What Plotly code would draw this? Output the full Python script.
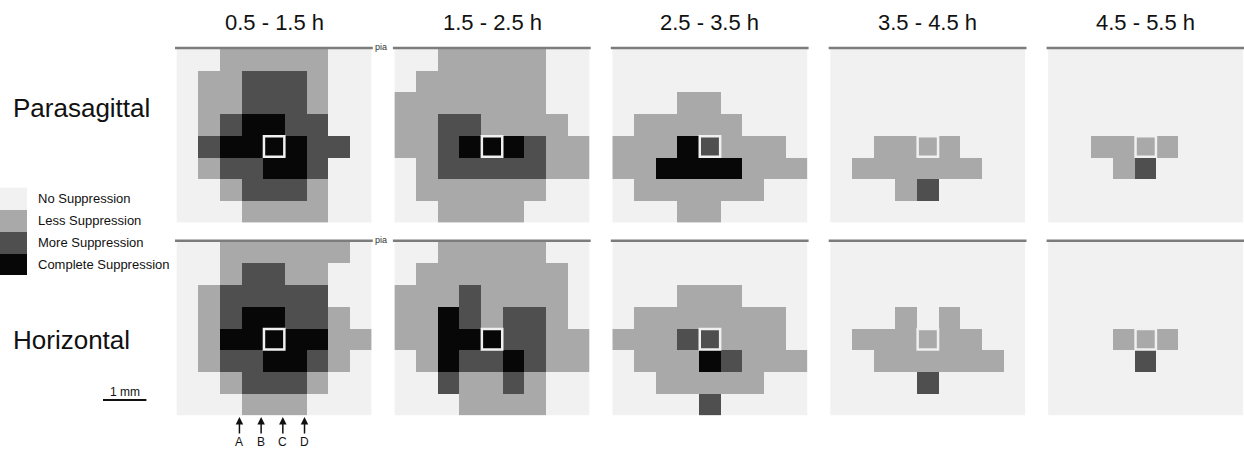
import plotly.graph_objects as go

# ---------------- data ----------------
time_labels = ["0.5 - 1.5 h", "1.5 - 2.5 h", "2.5 - 3.5 h", "3.5 - 4.5 h", "4.5 - 5.5 h"]
row_labels = ["Parasagittal", "Horizontal"]
level_names = ["No Suppression", "Less Suppression", "More Suppression", "Complete Suppression"]
level_values = [0, 1, 2, 3]
level_colors = ["#f1f1f1", "#a9a9a9", "#4f4f4f", "#070707"]
electrode_labels = ["A", "B", "C", "D"]
electrode_x = [2.4, 3.4, 4.4, 5.4]
center_cell = (4, 4)  # (col, row) of stimulation site

para_05_15 = [
    [0, 0, 1, 1, 1, 1, 1, 0, 0],
    [0, 1, 1, 2, 2, 2, 1, 0, 0],
    [0, 1, 1, 2, 2, 2, 1, 0, 0],
    [0, 1, 2, 3, 3, 2, 2, 0, 0],
    [0, 2, 3, 3, 3, 3, 2, 2, 0],
    [0, 1, 2, 2, 3, 3, 2, 0, 0],
    [0, 0, 1, 2, 2, 2, 1, 0, 0],
    [0, 0, 0, 1, 1, 1, 1, 0, 0],
]
para_15_25 = [
    [0, 0, 1, 1, 1, 1, 1, 0, 0],
    [0, 1, 1, 1, 1, 1, 1, 0, 0],
    [1, 1, 1, 1, 1, 1, 1, 0, 0],
    [1, 1, 2, 2, 1, 1, 1, 1, 0],
    [1, 1, 2, 3, 3, 3, 2, 1, 1],
    [0, 1, 2, 2, 2, 2, 2, 1, 1],
    [0, 1, 1, 1, 1, 1, 1, 0, 0],
    [0, 0, 1, 1, 1, 1, 0, 0, 0],
]
para_25_35 = [
    [0, 0, 0, 0, 0, 0, 0, 0, 0],
    [0, 0, 0, 0, 0, 0, 0, 0, 0],
    [0, 0, 0, 1, 1, 0, 0, 0, 0],
    [0, 1, 1, 1, 1, 1, 0, 0, 0],
    [1, 1, 1, 3, 2, 1, 1, 1, 0],
    [1, 1, 3, 3, 3, 3, 1, 1, 1],
    [0, 1, 1, 1, 1, 1, 1, 0, 0],
    [0, 0, 0, 1, 1, 0, 0, 0, 0],
]
para_35_45 = [
    [0, 0, 0, 0, 0, 0, 0, 0, 0],
    [0, 0, 0, 0, 0, 0, 0, 0, 0],
    [0, 0, 0, 0, 0, 0, 0, 0, 0],
    [0, 0, 0, 0, 0, 0, 0, 0, 0],
    [0, 0, 1, 1, 1, 1, 0, 0, 0],
    [0, 1, 1, 1, 1, 1, 1, 0, 0],
    [0, 0, 0, 1, 2, 0, 0, 0, 0],
    [0, 0, 0, 0, 0, 0, 0, 0, 0],
]
para_45_55 = [
    [0, 0, 0, 0, 0, 0, 0, 0, 0],
    [0, 0, 0, 0, 0, 0, 0, 0, 0],
    [0, 0, 0, 0, 0, 0, 0, 0, 0],
    [0, 0, 0, 0, 0, 0, 0, 0, 0],
    [0, 0, 1, 1, 1, 1, 0, 0, 0],
    [0, 0, 0, 1, 2, 0, 0, 0, 0],
    [0, 0, 0, 0, 0, 0, 0, 0, 0],
    [0, 0, 0, 0, 0, 0, 0, 0, 0],
]
horiz_05_15 = [
    [0, 0, 1, 1, 1, 1, 1, 1, 0],
    [0, 0, 1, 2, 2, 1, 1, 0, 0],
    [0, 1, 2, 2, 2, 2, 2, 0, 0],
    [0, 1, 2, 3, 3, 2, 2, 1, 0],
    [0, 1, 3, 3, 3, 3, 3, 1, 1],
    [0, 1, 2, 2, 3, 3, 2, 1, 0],
    [0, 0, 1, 2, 2, 2, 1, 0, 0],
    [0, 0, 0, 1, 1, 1, 0, 0, 0],
]
horiz_15_25 = [
    [0, 0, 1, 1, 1, 1, 1, 0, 0],
    [0, 1, 1, 1, 1, 1, 1, 1, 0],
    [1, 1, 1, 2, 1, 1, 1, 1, 0],
    [1, 1, 3, 2, 1, 2, 2, 1, 0],
    [1, 1, 3, 3, 3, 2, 2, 1, 1],
    [0, 1, 3, 2, 2, 3, 2, 1, 1],
    [0, 0, 2, 1, 1, 2, 1, 0, 0],
    [0, 0, 0, 1, 1, 1, 1, 0, 0],
]
horiz_25_35 = [
    [0, 0, 0, 0, 0, 0, 0, 0, 0],
    [0, 0, 0, 0, 0, 0, 0, 0, 0],
    [0, 0, 0, 1, 1, 1, 0, 0, 0],
    [0, 1, 1, 1, 1, 1, 1, 1, 0],
    [1, 1, 1, 2, 2, 1, 1, 1, 0],
    [0, 1, 1, 1, 3, 2, 1, 1, 1],
    [0, 0, 1, 1, 1, 1, 1, 0, 0],
    [0, 0, 0, 0, 2, 0, 0, 0, 0],
]
horiz_35_45 = [
    [0, 0, 0, 0, 0, 0, 0, 0, 0],
    [0, 0, 0, 0, 0, 0, 0, 0, 0],
    [0, 0, 0, 0, 0, 0, 0, 0, 0],
    [0, 0, 0, 1, 0, 1, 0, 0, 0],
    [0, 1, 1, 1, 1, 1, 1, 0, 0],
    [0, 0, 1, 1, 1, 1, 1, 1, 0],
    [0, 0, 0, 0, 2, 0, 0, 0, 0],
    [0, 0, 0, 0, 0, 0, 0, 0, 0],
]
horiz_45_55 = [
    [0, 0, 0, 0, 0, 0, 0, 0, 0],
    [0, 0, 0, 0, 0, 0, 0, 0, 0],
    [0, 0, 0, 0, 0, 0, 0, 0, 0],
    [0, 0, 0, 0, 0, 0, 0, 0, 0],
    [0, 0, 0, 1, 1, 1, 0, 0, 0],
    [0, 0, 0, 0, 2, 0, 0, 0, 0],
    [0, 0, 0, 0, 0, 0, 0, 0, 0],
    [0, 0, 0, 0, 0, 0, 0, 0, 0],
]
panels = [
    [para_05_15, para_15_25, para_25_35, para_35_45, para_45_55],
    [horiz_05_15, horiz_15_25, horiz_25_35, horiz_35_45, horiz_45_55],
]

# ---------------- layout geometry (pixels) ----------------
W, H = 1244, 449
CELL = 21.7
NCOL, NROW = 9, 8
PX0 = [176.5 + i * 217.9 for i in range(5)]
PY0 = [48.8, 241.6]


def fx(px):
    return px / W


def fy(py):
    return 1 - py / H


colorscale = [[v / 3, c] for v, c in zip(level_values, level_colors)]
FONT = "Arial, Liberation Sans, sans-serif"

fig = go.Figure()
layout = dict(
    width=W, height=H, margin=dict(l=0, r=0, t=0, b=0),
    paper_bgcolor="white", plot_bgcolor="white", showlegend=False,
    font=dict(family=FONT, color="#111111"),
)
shapes, annotations = [], []

k = 0
for r in range(2):
    for c in range(5):
        k += 1
        xa, ya = ("x", "y") if k == 1 else (f"x{k}", f"y{k}")
        z = panels[r][c]
        fig.add_trace(go.Heatmap(
            z=z, x=list(range(NCOL)), y=list(range(NROW)),
            colorscale=colorscale, zmin=0, zmax=3, showscale=False,
            xaxis=xa, yaxis=ya, hoverinfo="skip"))
        x0 = PX0[c]
        y0 = PY0[r]
        layout["xaxis" if k == 1 else f"xaxis{k}"] = dict(
            domain=[fx(x0), fx(x0 + NCOL * CELL)], range=[-0.5, NCOL - 0.5],
            visible=False, fixedrange=True, anchor=ya)
        layout["yaxis" if k == 1 else f"yaxis{k}"] = dict(
            domain=[fy(y0 + NROW * CELL), fy(y0)], range=[NROW - 0.5, -0.5],
            visible=False, fixedrange=True, anchor=xa)
        # pia line
        shapes.append(dict(type="line", xref="paper", yref="paper",
                           x0=fx(x0 - 1.5), x1=fx(x0 + NCOL * CELL + 1),
                           y0=fy(y0 - 0.8), y1=fy(y0 - 0.8),
                           line=dict(color="#7c7c7c", width=2.5)))
        # stimulation site outline
        cc, cr = center_cell
        shapes.append(dict(type="rect", xref=xa, yref=ya,
                           x0=cc - 0.47, x1=cc + 0.47, y0=cr - 0.47, y1=cr + 0.47,
                           line=dict(color="#f0f0f0", width=2.5)))
        if r == 0:
            annotations.append(dict(text=time_labels[c], xref="paper", yref="paper",
                                    x=fx(x0 + NCOL * CELL / 2), y=fy(22),
                                    xanchor="center", yanchor="middle", showarrow=False,
                                    font=dict(size=22, family=FONT, color="#111111")))
        if c == 0:
            annotations.append(dict(text="pia", xref="paper", yref="paper",
                                    x=fx(x0 + NCOL * CELL + 1), y=fy(y0 - 1.5),
                                    xanchor="left", yanchor="middle", showarrow=False,
                                    font=dict(size=9, family=FONT, color="#333333")))

# legend swatches as a small heatmap
k += 1
fig.add_trace(go.Heatmap(
    z=[[v] for v in level_values], x=[0], y=list(range(4)),
    colorscale=colorscale, zmin=0, zmax=3, showscale=False,
    xaxis=f"x{k}", yaxis=f"y{k}", hoverinfo="skip"))
LEG_Y0, LEG_H = 187.5, 21.9
layout[f"xaxis{k}"] = dict(domain=[0, fx(27)], range=[-0.5, 0.5], visible=False,
                           fixedrange=True, anchor=f"y{k}")
layout[f"yaxis{k}"] = dict(domain=[fy(LEG_Y0 + 4 * LEG_H), fy(LEG_Y0)], range=[3.5, -0.5],
                           visible=False, fixedrange=True, anchor=f"x{k}")
for i, name in enumerate(level_names):
    annotations.append(dict(text=name, xref="paper", yref="paper",
                            x=fx(36), y=fy(LEG_Y0 + (i + 0.5) * LEG_H),
                            xanchor="left", yanchor="middle", showarrow=False,
                            font=dict(size=13, family=FONT, color="#111111")))

# row labels
for r, lab in enumerate(row_labels):
    annotations.append(dict(text=lab, xref="paper", yref="paper",
                            x=fx(11), y=fy([108, 340][r]),
                            xanchor="left", yanchor="middle", showarrow=False,
                            font=dict(size=26, family=FONT, color="#111111")))

# scale bar (1 mm = 2 cells)
shapes.append(dict(type="line", xref="paper", yref="paper",
                   x0=fx(103), x1=fx(103 + 2 * CELL), y0=fy(400), y1=fy(400),
                   line=dict(color="#111111", width=2)))
annotations.append(dict(text="1 mm", xref="paper", yref="paper",
                        x=fx(103 + CELL), y=fy(392), xanchor="center", yanchor="middle",
                        showarrow=False, font=dict(size=12, family=FONT, color="#111111")))

# electrode arrows under the first horizontal panel
for lab, ex in zip(electrode_labels, electrode_x):
    annotations.append(dict(text=lab, xref="x6", yref="paper", x=ex, y=fy(417),
                            ax=0, ay=25, showarrow=True, arrowhead=2, arrowsize=1,
                            arrowwidth=1.5, arrowcolor="#111111", standoff=0,
                            font=dict(size=12, family=FONT, color="#111111")))

layout["shapes"] = shapes
layout["annotations"] = annotations
fig.update_layout(**layout)
fig.write_html(
    "out.html",
    config={"displayModeBar": False},
    post_script="document.body.style.margin='0';document.body.style.padding='0';",
)
